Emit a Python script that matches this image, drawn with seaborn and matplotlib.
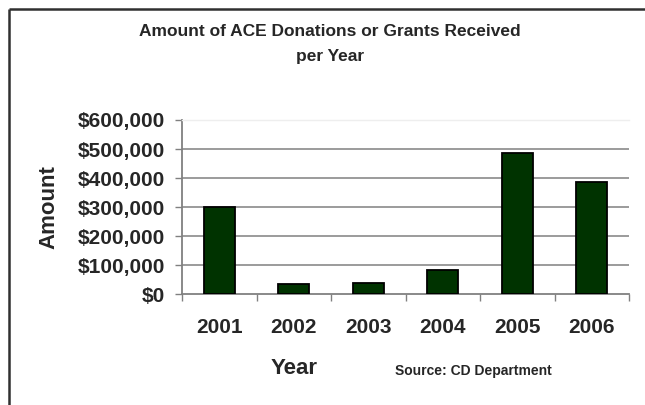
import matplotlib
matplotlib.use("Agg")
import matplotlib.pyplot as plt
from matplotlib.ticker import FuncFormatter, FixedLocator
from matplotlib.lines import Line2D
import seaborn as sns
import pandas as pd

years = ["2001", "2002", "2003", "2004", "2005", "2006"]
amounts = [300000, 35000, 40000, 82000, 488000, 385000]
y_ticks = [0, 100000, 200000, 300000, 400000, 500000, 600000]

sns.set_theme(style="white")
plt.rcParams["font.family"] = ["Liberation Sans", "DejaVu Sans"]
plt.rcParams["font.weight"] = "bold"

df = pd.DataFrame({"Year": years, "Amount": amounts})

fig = plt.figure(figsize=(6.45, 4.05), dpi=100)
fig.patch.set_facecolor("white")
ax = fig.add_axes([182 / 645, 1 - 294.3 / 405, (629 - 182) / 645, (294.3 - 120) / 405])

sns.barplot(data=df, x="Year", y="Amount", order=years, color="#003300",
            saturation=1, width=0.42, edgecolor="black", linewidth=1.3, ax=ax, zorder=3)

ax.set_ylim(0, 600000)
ax.set_xlim(-0.5, len(years) - 0.5)
ax.yaxis.set_major_locator(FixedLocator(y_ticks))
ax.yaxis.set_major_formatter(FuncFormatter(lambda v, _: f"${v:,.0f}"))

# horizontal gridlines
for v in y_ticks[1:-1]:
    ax.axhline(v, color="#808080", linewidth=1.1, zorder=1)

for side in ["left", "bottom"]:
    ax.spines[side].set_color("#808080")
    ax.spines[side].set_linewidth(1.3)
ax.spines["top"].set_color("#eeeeee")
ax.spines["top"].set_linewidth(1.0)
ax.spines["right"].set_visible(False)

# x ticks sit between categories, labels at category centres
ax.set_xticks(range(len(years)))
ax.set_xticklabels(years, fontsize=15, fontweight="bold")
ax.set_xticks([i + 0.5 for i in range(-1, len(years))], minor=True)
ax.tick_params(axis="x", which="major", length=0, pad=17)
ax.tick_params(axis="x", which="minor", length=5, width=1, color="#808080",
               direction="out", bottom=True)
ax.tick_params(axis="y", length=5, width=1, color="#808080", direction="out",
               left=True, pad=7, labelsize=15)
for lab in ax.get_yticklabels():
    lab.set_fontweight("bold")

ax.set_xlabel("")
ax.set_ylabel("")

fig.text(49 / 645, 1 - 207 / 405, "Amount", rotation=90, ha="center", va="center",
         fontsize=16, fontweight="bold")
fig.text(294 / 645, 1 - 369 / 405, "Year", ha="center", va="center",
         fontsize=16, fontweight="bold")
fig.text(473 / 645, 1 - 371 / 405, "Source: CD Department", ha="center", va="center",
         fontsize=10, fontweight="bold")

fig.text(330 / 645, 1 - 44 / 405, "Amount of ACE Donations or Grants Received\nper Year",
         ha="center", va="center", fontsize=12.5, fontweight="bold", linespacing=1.75)

# frame around the chart (top and left edges)
fig.add_artist(Line2D([8.5 / 645, 1.0], [1 - 8.5 / 405, 1 - 8.5 / 405],
                      transform=fig.transFigure, color="#303030", linewidth=1.8,
                      solid_capstyle="butt"))
fig.add_artist(Line2D([8.5 / 645, 8.5 / 645], [1 - 8.5 / 405, 0.0],
                      transform=fig.transFigure, color="#303030", linewidth=1.8,
                      solid_capstyle="butt"))

fig.savefig("out.png", dpi=100, facecolor="white")
